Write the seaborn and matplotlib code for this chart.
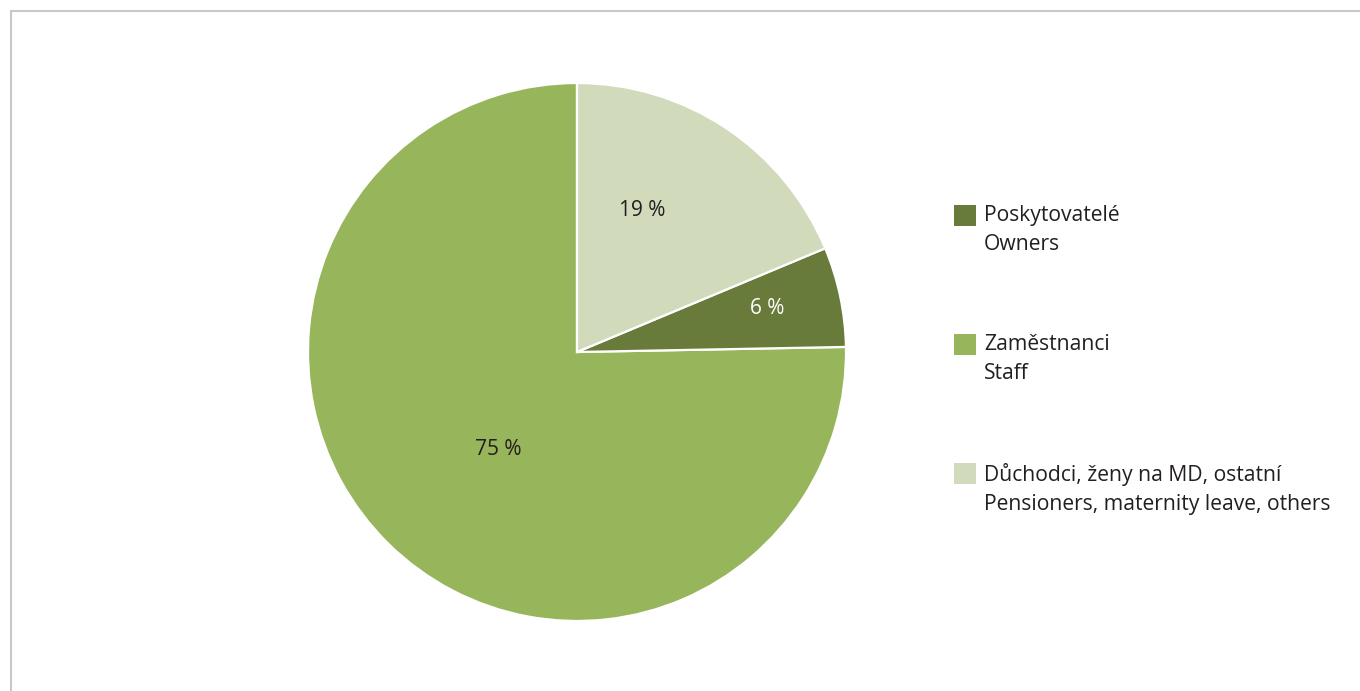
import matplotlib.pyplot as plt
import seaborn as sns
from matplotlib.patches import Patch
from matplotlib.lines import Line2D
import numpy as np

# data (legend order)
categories = ["Poskytovatelé\nOwners",
              "Zaměstnanci\nStaff",
              "Důchodci, ženy na MD, ostatní\nPensioners, maternity leave, others"]
shares = [6.0, 75.3, 18.7]
pct_labels = ["6 %", "75 %", "19 %"]
colors = ["#687b3a", "#97b55a", "#d1dbbc"]
text_colors = ["white", "#231f20", "#231f20"]

# pie is drawn counterclockwise from the top starting with the staff slice
draw_order = [1, 0, 2]
label_r = {0: 0.725, 1: 0.465, 2: 0.58}
label_shift = {0: 1.0, 1: 5.5, 2: 9.0}

sns.set_theme(style="white")
plt.rcParams['font.family'] = ['Open Sans', 'DejaVu Sans']

W, H = 1360, 691
fig = plt.figure(figsize=(W / 100, H / 100), dpi=100)

cx, cy, R = 577, 352, 269
ax = fig.add_axes([(cx - R) / W, (H - cy - R) / H, 2 * R / W, 2 * R / H])

wedges, _ = ax.pie([shares[i] for i in draw_order],
                   colors=[colors[i] for i in draw_order],
                   startangle=90, counterclock=True, radius=1,
                   wedgeprops=dict(edgecolor="white", linewidth=1.6))
ax.set_xlim(-1, 1)
ax.set_ylim(-1, 1)
ax.set_aspect("equal")
ax.axis("off")

for w, i in zip(wedges, draw_order):
    mid = np.deg2rad((w.theta1 + w.theta2) / 2 + label_shift[i])
    ax.text(label_r[i] * np.cos(mid), label_r[i] * np.sin(mid), pct_labels[i],
            ha="center", va="center", fontsize=15, color=text_colors[i])

handles = [Patch(facecolor=c, edgecolor="none") for c in colors]
leg = fig.legend(handles, categories, loc="upper left",
                 bbox_to_anchor=(943 / W, 1 - 194 / H), frameon=False,
                 fontsize=15.2, handlelength=1.04, handleheight=1.19,
                 handletextpad=0.4, labelspacing=3.75, borderpad=0,
                 labelcolor="#231f20")
for t in leg.get_texts():
    t.set_linespacing(1.5)
# square next to the first line of each label
for col in leg._legend_handle_box.get_children():
    for row in col.get_children():
        row.align = "top"

# frame
fig.add_artist(Line2D([10.5 / W, 10.5 / W], [0, 1 - 10.5 / H],
                      color="#c8c8c8", linewidth=1.5))
fig.add_artist(Line2D([10.5 / W, 1], [1 - 10.5 / H, 1 - 10.5 / H],
                      color="#c8c8c8", linewidth=1.5))

fig.savefig("out.png", dpi=100)
